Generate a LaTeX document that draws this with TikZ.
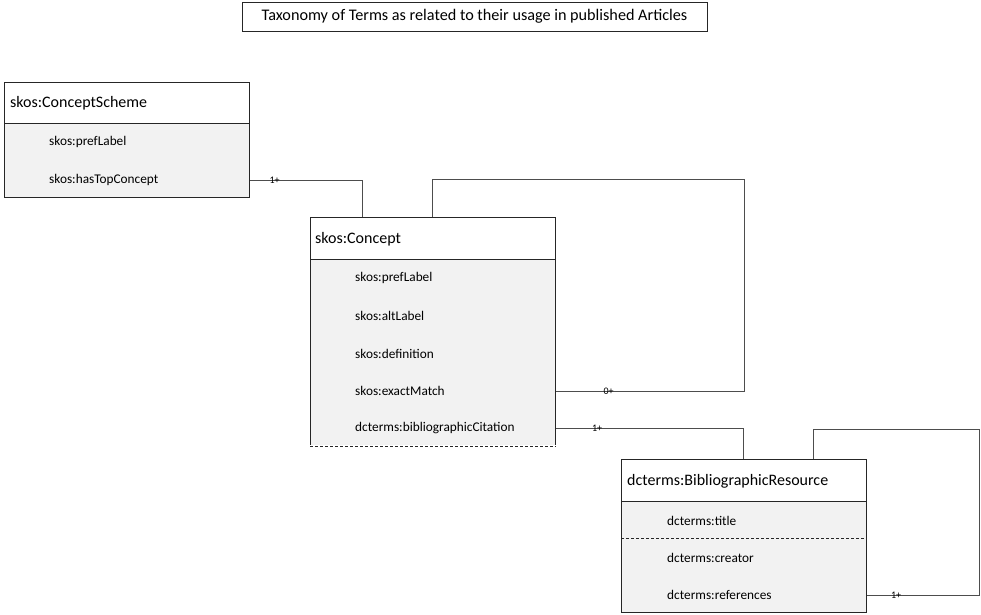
\documentclass[tikz,border=0pt]{standalone}
\usepackage{fontspec}
\setmainfont{Carlito}
\usepackage{tikz}
\usetikzlibrary{positioning}

\definecolor{boxline}{HTML}{262626}
\definecolor{linkline}{HTML}{4D4D4D}
\definecolor{bodyfill}{HTML}{F2F2F2}

\tikzset{
  titlebox/.style={draw=boxline, line width=0.8pt, minimum width=465pt, minimum height=29pt,
    inner sep=0pt, font=\fontsize{16.2}{19}\selectfont},
  classhead/.style={draw=boxline, line width=1pt, fill=white, anchor=north west,
    minimum width=245pt, inner sep=0pt},
  classbody/.style={draw=boxline, line width=1pt, fill=bodyfill, anchor=north west,
    minimum width=245pt, inner sep=0pt},
  classname/.style={anchor=west, inner sep=0pt, font=\fontsize{16}{19}\selectfont},
  attr/.style={anchor=west, inner sep=0pt, font=\fontsize{13.3}{16}\selectfont},
  link/.style={draw=linkline, line width=1pt},
  mult/.style={inner sep=0.5pt, font=\fontsize{10}{11}\selectfont},
  sepline/.style={draw=boxline, line width=0.9pt, densely dashed}
}

\begin{document}
\begin{tikzpicture}[x=1pt, y=-1pt]
  \useasboundingbox (0,0) rectangle (981,614);

  % Title of the diagram
  \node[titlebox] (title) at (474.5,16.5) {Taxonomy of Terms as related to their usage in published Articles};

  % skos:ConceptScheme
  \node[classhead, minimum height=41pt] (schemeHead) at (4,82) {};
  \node[classbody, minimum height=74pt] (schemeBody) at (4,123) {};
  \node[classname] (schemeName) at (10,103.5) {skos:ConceptScheme};
  \node[attr] (schemePref) at (49,142) {skos:prefLabel};
  \node[attr] (schemeTop) at (49,180) {skos:hasTopConcept};

  % skos:Concept
  \node[classhead, minimum height=42pt] (conceptHead) at (310,217) {};
  \node[classbody, minimum height=186pt] (conceptBody) at (310,259) {};
  \draw[white, line width=1.2pt] (conceptBody.south west) -- (conceptBody.south east);
  \draw[sepline] (conceptBody.south west) -- (conceptBody.south east);
  \node[classname] (conceptName) at (315,239.5) {skos:Concept};
  \node[attr] (conceptPref) at (355,278) {skos:prefLabel};
  \node[attr] (conceptAlt) at (355,316) {skos:altLabel};
  \node[attr] (conceptDef) at (355,354) {skos:definition};
  \node[attr] (conceptMatch) at (355,391) {skos:exactMatch};
  \node[attr] (conceptCite) at (355,428) {dcterms:bibliographicCitation};

  % dcterms:BibliographicResource
  \node[classhead, minimum height=42pt] (resHead) at (621,459) {};
  \node[classbody, minimum height=111pt] (resBody) at (621,501) {};
  \draw[sepline] (621,538) -- (866,538);
  \node[classname] (resName) at (627,481.5) {dcterms:BibliographicResource};
  \node[attr] (resTitle) at (667,521) {dcterms:title};
  \node[attr] (resCreator) at (667,558) {dcterms:creator};
  \node[attr] (resRefs) at (667,595) {dcterms:references};

  % Connectors
  \coordinate (topIn) at (362,217);
  \draw[link] (schemeBody.east |- schemeTop) -| (topIn)
    node[mult, pos=0.11] {1+};

  \coordinate (loopOut) at (432,217);
  \coordinate (loopCorner) at (744,179);
  \draw[link] (loopOut) |- (loopCorner) |- (conceptBody.east |- conceptMatch)
    node[mult, pos=0.86] {0+};

  \coordinate (resIn) at (743,459);
  \draw[link] (conceptBody.east |- conceptCite) -| (resIn)
    node[mult, pos=0.11] {1+};

  \coordinate (resOut) at (813,459);
  \coordinate (resCorner) at (979,429);
  \draw[link] (resOut) |- (resCorner) |- (resBody.east |- resRefs)
    node[mult, pos=0.87] {1+};
\end{tikzpicture}
\end{document}
